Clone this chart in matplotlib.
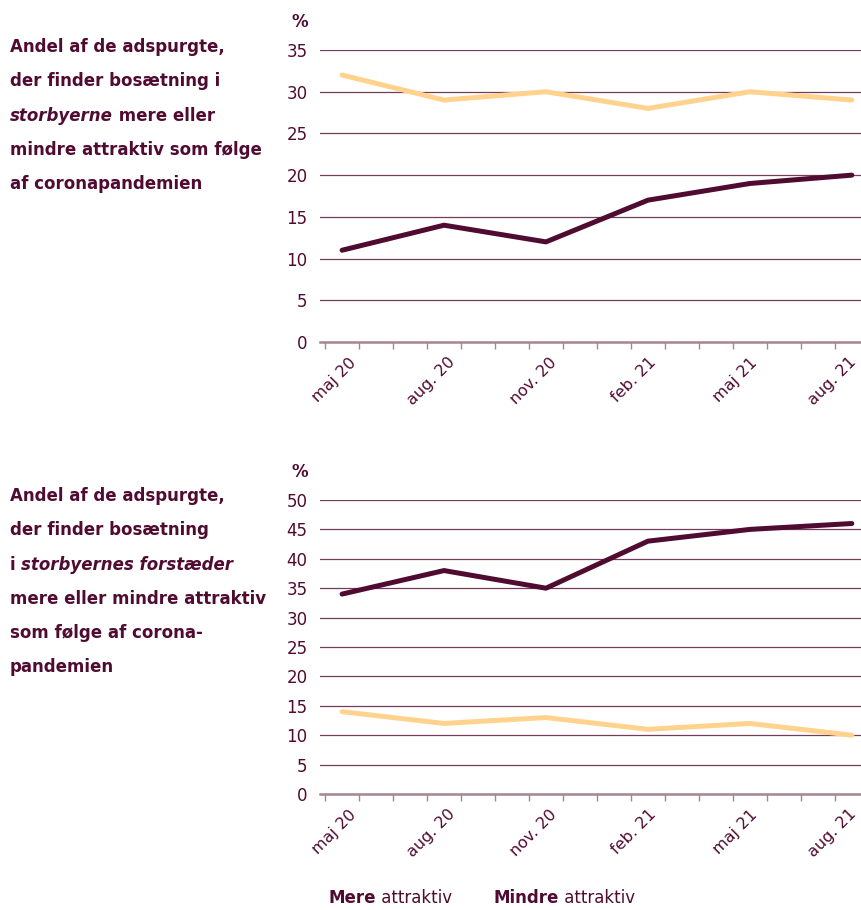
import numpy as np
import matplotlib.pyplot as plt
from matplotlib.transforms import ScaledTranslation

# data
x_labels = ['maj 20', 'aug. 20', 'nov. 20', 'feb. 21', 'maj 21', 'aug. 21']
city_mere = [11, 14, 12, 17, 19, 20]
city_mindre = [32, 29, 30, 28, 30, 29]
sub_mere = [34, 38, 35, 43, 45, 46]
sub_mindre = [14, 12, 13, 11, 12, 10]
city_yticks = [0, 5, 10, 15, 20, 25, 30, 35]
sub_yticks = [0, 5, 10, 15, 20, 25, 30, 35, 40, 45, 50]

city_title = [
    [('Andel af de adspurgte,', 'normal')],
    [('der finder bosætning i', 'normal')],
    [('storbyerne', 'italic'), (' mere eller', 'normal')],
    [('mindre attraktiv som følge', 'normal')],
    [('af coronapandemien', 'normal')],
]
sub_title = [
    [('Andel af de adspurgte,', 'normal')],
    [('der finder bosætning', 'normal')],
    [('i ', 'normal'), ('storbyernes forstæder', 'italic')],
    [('mere eller mindre attraktiv', 'normal')],
    [('som følge af corona-', 'normal')],
    [('pandemien', 'normal')],
]

DARK = '#500b31'
YELLOW = '#ffd38e'
MAUVE = '#a58494'

plt.rcParams['font.family'] = ['DejaVu Sans']

fig = plt.figure(figsize=(8.61, 9.10), dpi=100)
W, H = 861, 910
renderer = fig.canvas.get_renderer()

# nudge (px) of each rotated month label to the right of its point
label_nudge = [12, 9, 8, 6, 5, 2]


def px(x, y):
    return x / W, 1 - y / H


def make_axes(top, bottom, mere, mindre, yticks):
    ax = fig.add_axes([320 / W, 1 - bottom / H, (W - 320) / W, (bottom - top) / H])
    xs = np.arange(len(x_labels)) * 3
    ax.plot(xs, mindre, color=YELLOW, lw=3.6, solid_capstyle='round', zorder=3, clip_on=False)
    ax.plot(xs, mere, color=DARK, lw=3.6, solid_capstyle='round', zorder=4, clip_on=False)
    ax.set_xlim(-0.65, 15.27)
    ax.set_ylim(0, yticks[-1])
    for v in yticks[1:]:
        ax.axhline(v, color=DARK, lw=0.9, alpha=0.8, zorder=1)
    for s in ['top', 'right', 'left']:
        ax.spines[s].set_visible(False)
    ax.spines['bottom'].set_color(MAUVE)
    ax.spines['bottom'].set_linewidth(1.8)
    ax.set_yticks(yticks)
    ax.tick_params(axis='y', length=0, pad=9, labelsize=12, labelcolor=DARK)
    ax.set_xticks(xs)
    ax.set_xticklabels(x_labels, rotation=45, ha='right', va='center',
                       rotation_mode='anchor', fontsize=11.5, color=DARK)
    ax.tick_params(axis='x', which='major', length=0, pad=13)
    ax.set_xticks(np.arange(-0.5, 15, 1), minor=True)
    ax.tick_params(axis='x', which='minor', length=5, width=1, color=MAUVE)
    for lab, dx in zip(ax.get_xticklabels(), label_nudge):
        lab.set_transform(lab.get_transform() + ScaledTranslation(dx / 100, 0, fig.dpi_scale_trans))
    fig.text(*px(292, top - 28), '%', fontsize=12, fontweight='bold', color=DARK, va='center')
    return ax


make_axes(50, 342, city_mere, city_mindre, city_yticks)
make_axes(500, 794, sub_mere, sub_mindre, sub_yticks)


def chained_text(parts, x, y, size):
    # draw the pieces one after another on the same baseline
    for txt, weight, style in parts:
        t = fig.text(*px(x, y), txt, fontsize=size, fontweight=weight, style=style,
                     color=DARK, va='baseline', ha='left')
        x += t.get_window_extent(renderer).width


# fit the title size so the widest line matches the reference width
probe = fig.text(0, 0, 'mindre attraktiv som følge', fontsize=10, fontweight='bold')
title_size = 10 * 252 / probe.get_window_extent(renderer).width
probe.remove()

for i, parts in enumerate(city_title):
    chained_text([(t, 'bold', s) for t, s in parts], 10, 52 + i * 34.3, title_size)
for i, parts in enumerate(sub_title):
    chained_text([(t, 'bold', s) for t, s in parts], 10, 501 + i * 34.3, title_size)

chained_text([('Mere', 'bold', 'normal'), (' attraktiv', 'normal', 'normal')], 328, 903, 12)
chained_text([('Mindre', 'bold', 'normal'), (' attraktiv', 'normal', 'normal')], 494, 903, 12)

fig.savefig('out.png', dpi=100)
